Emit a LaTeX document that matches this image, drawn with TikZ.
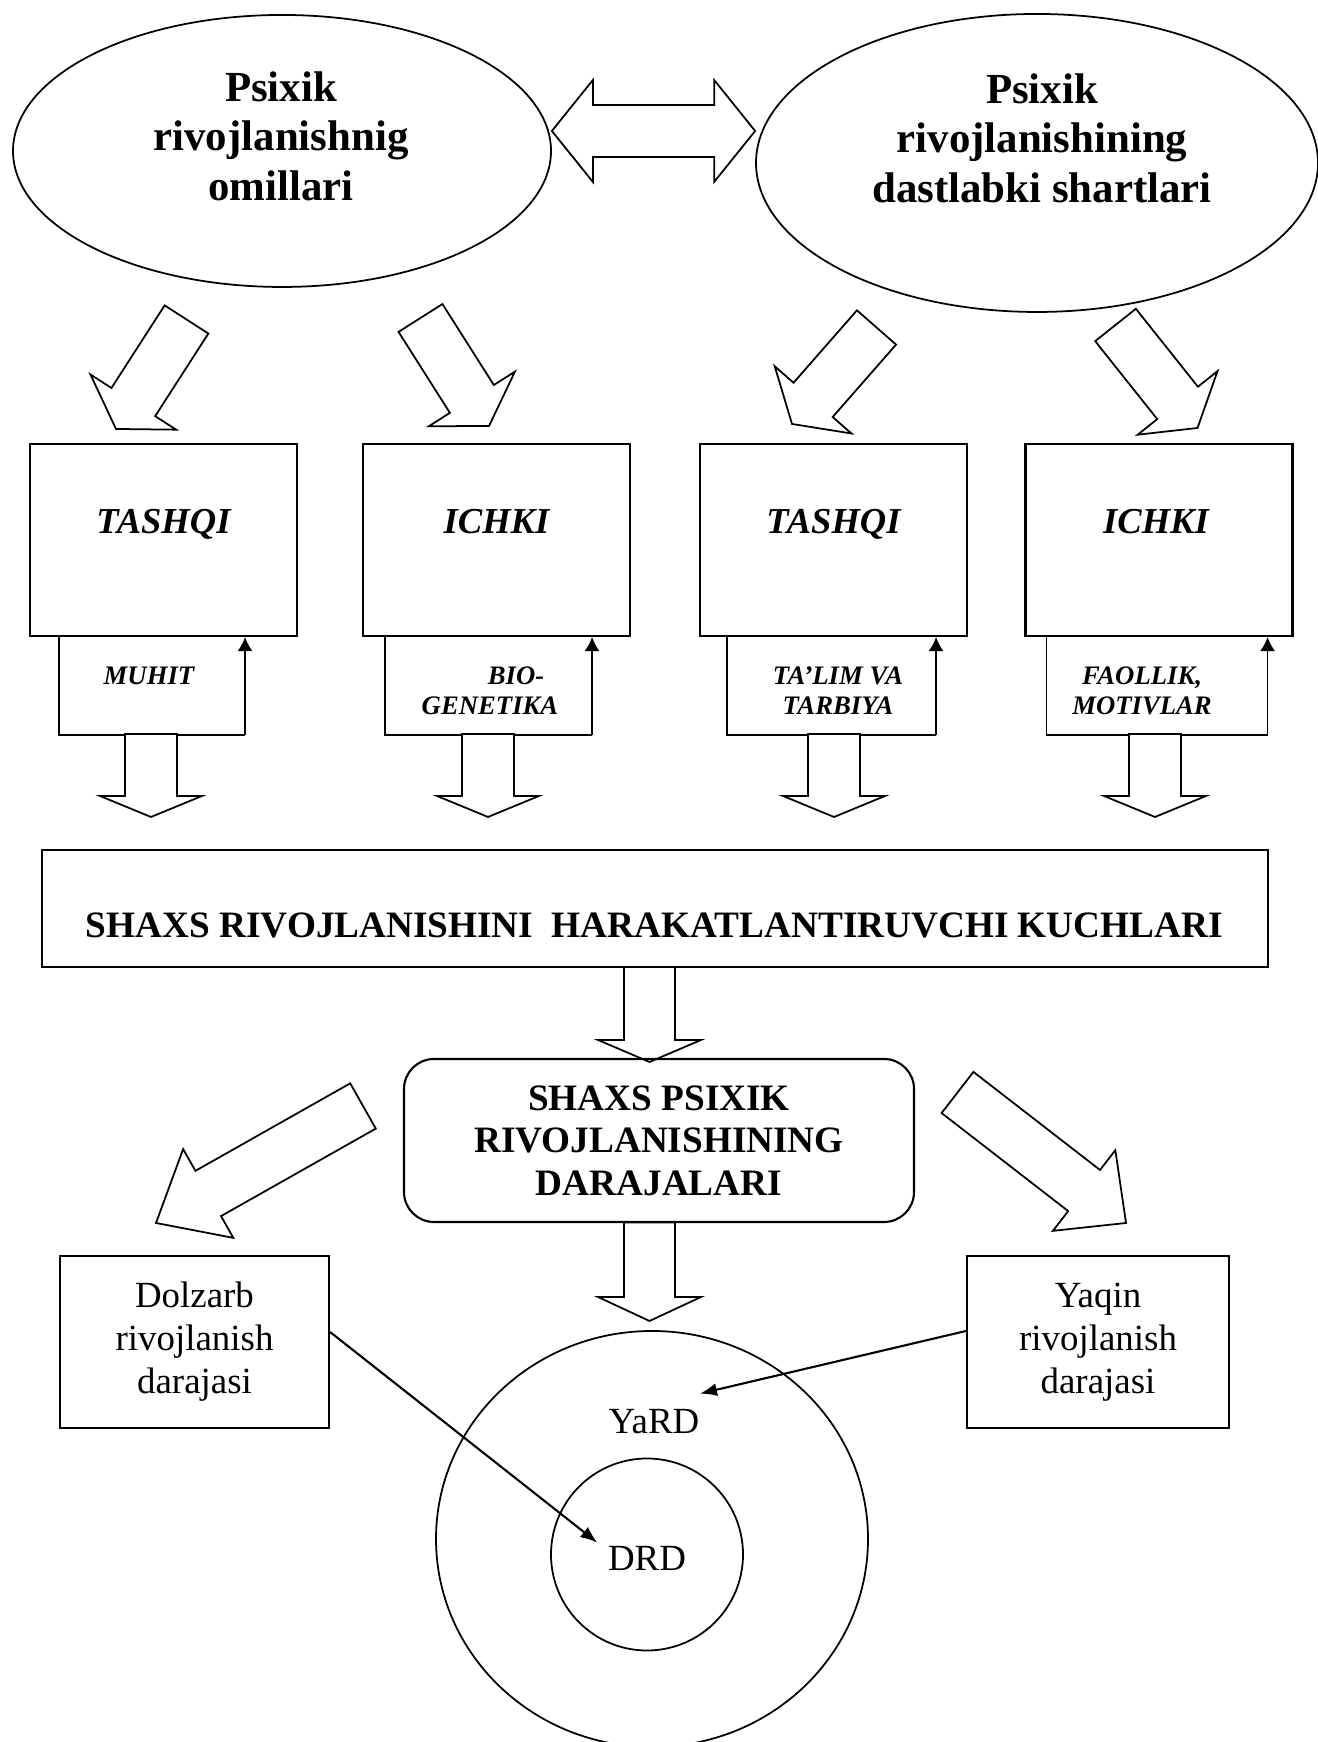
\documentclass[tikz,border=0pt]{standalone}
\usepackage{fontspec}
\setmainfont{Liberation Serif}
\usetikzlibrary{shapes.geometric, arrows.meta, calc}

% hollow block arrow: tail, tip, shaft half width, head half width, head length
\newcommand{\blockarrow}[5]{%
	\coordinate (bh) at ($(#2)!#5!(#1)$);
	\draw[blk] ($(#1)!#3!90:(#2)$) -- ($(bh)!#3!90:(#2)$) -- ($(bh)!#4!90:(#2)$) -- (#2)
		-- ($(bh)!#4!-90:(#2)$) -- ($(bh)!#3!-90:(#2)$) -- ($(#1)!#3!-90:(#2)$) -- cycle;
}

\begin{document}
\begin{tikzpicture}[
		oval/.style={draw, ellipse, line width=0.5pt, inner sep=0pt},
		box/.style={draw, rectangle, line width=0.6pt, inner sep=0pt},
		blk/.style={draw, fill=white, line width=0.5pt},
		ovaltxt/.style={font=\fontsize{12.2}{14.1}\selectfont\bfseries, align=center, inner sep=0pt},
		ttltxt/.style={font=\fontsize{10.4}{12}\selectfont\bfseries\itshape, inner sep=0pt},
		smltxt/.style={font=\fontsize{7.6}{8.5}\selectfont\bfseries\itshape, align=center, inner sep=0pt},
		headtxt/.style={font=\fontsize{10.6}{12.1}\selectfont\bfseries, inner sep=0pt},
		regtxt/.style={font=\fontsize{10.5}{12.2}\selectfont, inner sep=0pt},
		uparr/.style={-{Latex[length=1.4mm,width=1.5mm]}, line width=0.5pt},
		ptr/.style={-{Latex[length=1.7mm,width=1.3mm]}, line width=0.6pt}
	]
		\useasboundingbox (0,0) rectangle (13.17,17.42);

		\node[oval, minimum width=5.38cm, minimum height=2.72cm] (omil) at (2.82,15.91) {};
		\node[ovaltxt] (omiltxt) at (2.81,16.06) {Psixik\\rivojlanishnig\\omillari};
		\node[oval, minimum width=5.62cm, minimum height=2.98cm] (shart) at (10.37,15.79) {};
		\node[ovaltxt] (sharttxt) at (10.42,16.04) {Psixik\\rivojlanishining\\dastlabki shartlari};

		\coordinate (dl) at ([yshift=0.2cm]omil.east);
		\coordinate (dr) at ([yshift=0.32cm]shart.west);
		\draw[blk] (dl) -- ++(0.41,0.51) -- ++(0,-0.25) -- ($(dr)+(-0.41,0.26)$) -- ++(0,0.25) -- (dr)
			-- ++(-0.41,-0.51) -- ++(0,0.25) -- ($(dl)+(0.41,-0.26)$) -- ++(0,-0.25) -- cycle; % both ways

		\coordinate (a1) at (1.865,14.225); \coordinate (z1) at (1.16,13.13);
		\coordinate (a2) at (4.205,14.24); \coordinate (z2) at (4.89,13.16);
		\coordinate (a3) at (8.765,14.145); \coordinate (z3) at (7.92,13.18);
		\coordinate (a4) at (11.155,14.17); \coordinate (z4) at (11.975,13.14);
		\blockarrow{a1}{z1}{0.26cm}{0.51cm}{0.32cm}
		\blockarrow{a2}{z2}{0.26cm}{0.51cm}{0.32cm}
		\blockarrow{a3}{z3}{0.26cm}{0.51cm}{0.32cm}
		\blockarrow{a4}{z4}{0.26cm}{0.51cm}{0.32cm}

		\node[box, minimum width=2.67cm, minimum height=1.92cm] (b1) at (1.635,12.02) {};
		\node[box, minimum width=2.67cm, minimum height=1.92cm] (b2) at (4.965,12.02) {};
		\node[box, minimum width=2.67cm, minimum height=1.92cm] (b3) at (8.335,12.02) {};
		\node[box, minimum width=2.67cm, minimum height=1.92cm] (b4) at (11.59,12.02) {};
		\node[ttltxt, anchor=base] (t1) at ([yshift=0.06cm]b1.center) {TASHQI};
		\node[ttltxt, anchor=base] (t2) at ([yshift=0.06cm]b2.center) {ICHKI};
		\node[ttltxt, anchor=base] (t3) at ([yshift=0.06cm]b3.center) {TASHQI};
		\node[ttltxt, anchor=base] (t4) at ([xshift=-0.03cm,yshift=0.06cm]b4.center) {ICHKI};

		\draw[line width=0.5pt] ([xshift=0.30cm]b1.south west) |- ([xshift=-0.53cm,yshift=-0.98cm]b1.south east) coordinate (k1);
		\draw[uparr] (k1) -- (k1 |- b1.south);
		\draw[line width=0.5pt] ([xshift=0.23cm]b2.south west) |- ([xshift=-0.39cm,yshift=-0.98cm]b2.south east) coordinate (k2);
		\draw[uparr] (k2) -- (k2 |- b2.south);
		\draw[line width=0.5pt] ([xshift=0.28cm]b3.south west) |- ([xshift=-0.32cm,yshift=-0.98cm]b3.south east) coordinate (k3);
		\draw[uparr] (k3) -- (k3 |- b3.south);
		\draw[line width=0.5pt] ([xshift=0.22cm]b4.south west) |- ([xshift=-0.26cm,yshift=-0.98cm]b4.south east) coordinate (k4);
		\draw[uparr] (k4) -- (k4 |- b4.south);

		\node[smltxt] (l1) at (1.49,10.66) {MUHIT};
		\node[smltxt] (l2) at (4.90,10.51) {\hspace*{0.52cm}BIO-\\GENETIKA};
		\node[smltxt] (l3) at (8.38,10.51) {TA’LIM VA\\TARBIYA};
		\node[smltxt] (l4) at (11.42,10.51) {FAOLLIK,\\MOTIVLAR};

		\coordinate (d1) at (1.51,10.08); \coordinate (e1) at (1.51,9.25);
		\coordinate (d2) at (4.88,10.08); \coordinate (e2) at (4.88,9.25);
		\coordinate (d3) at (8.34,10.08); \coordinate (e3) at (8.34,9.25);
		\coordinate (d4) at (11.55,10.08); \coordinate (e4) at (11.55,9.25);
		\blockarrow{d1}{e1}{0.26cm}{0.51cm}{0.21cm}
		\blockarrow{d2}{e2}{0.26cm}{0.51cm}{0.21cm}
		\blockarrow{d3}{e3}{0.26cm}{0.51cm}{0.21cm}
		\blockarrow{d4}{e4}{0.26cm}{0.51cm}{0.21cm}

		\node[box, minimum width=12.26cm, minimum height=1.17cm] (kuch) at (6.55,8.335) {};
		\node[headtxt, anchor=base] (kuchtxt) at (6.545,8.04) {SHAXS RIVOJLANISHINI~ HARAKATLANTIRUVCHI KUCHLARI};

		\coordinate (d5) at (6.495,7.75); \coordinate (e5) at (6.495,6.80);
		\blockarrow{d5}{e5}{0.255cm}{0.515cm}{0.22cm}

		\node[box, rounded corners=0.3cm, minimum width=5.10cm, minimum height=1.63cm, headtxt, align=center] (dar) at (6.59,6.015)
			{SHAXS PSIXIK\\RIVOJLANISHINING\\DARAJALARI};

		\coordinate (d6) at (6.495,5.195); \coordinate (e6) at (6.495,4.21);
		\blockarrow{d6}{e6}{0.255cm}{0.515cm}{0.24cm}
		\coordinate (aL) at (3.63,6.36); \coordinate (zL) at (1.56,5.19);
		\blockarrow{aL}{zL}{0.26cm}{0.51cm}{0.60cm}
		\coordinate (aR) at (9.575,6.495); \coordinate (zR) at (11.26,5.19);
		\blockarrow{aR}{zR}{0.26cm}{0.51cm}{0.53cm}

		\node[box, regtxt, align=center, minimum width=2.69cm, minimum height=1.72cm] (dol) at (1.945,4.00) {Dolzarb\\rivojlanish\\darajasi};
		\node[box, regtxt, align=center, minimum width=2.62cm, minimum height=1.72cm] (yaq) at (10.98,4.00) {Yaqin\\rivojlanish\\darajasi};

		\node[oval, minimum width=4.32cm, minimum height=4.16cm] (yard) at (6.52,2.03) {}; % outer
		\node[draw, circle, line width=0.5pt, minimum size=1.92cm, inner sep=0pt] (drd) at (6.47,1.875) {}; % inner
		\node[regtxt, anchor=base] (yardtxt) at (6.54,3.08) {YaRD};
		\node[regtxt, anchor=base] (drdtxt) at (6.47,1.71) {DRD};

		\draw[ptr] ([yshift=0.10cm]dol.east) -- ([xshift=-0.10cm,yshift=0.035cm]drdtxt.north west);
		\draw[ptr] ([yshift=0.11cm]yaq.west) -- ([xshift=0.0cm,yshift=0.155cm]yardtxt.north east);
	\end{tikzpicture}
\end{document}
